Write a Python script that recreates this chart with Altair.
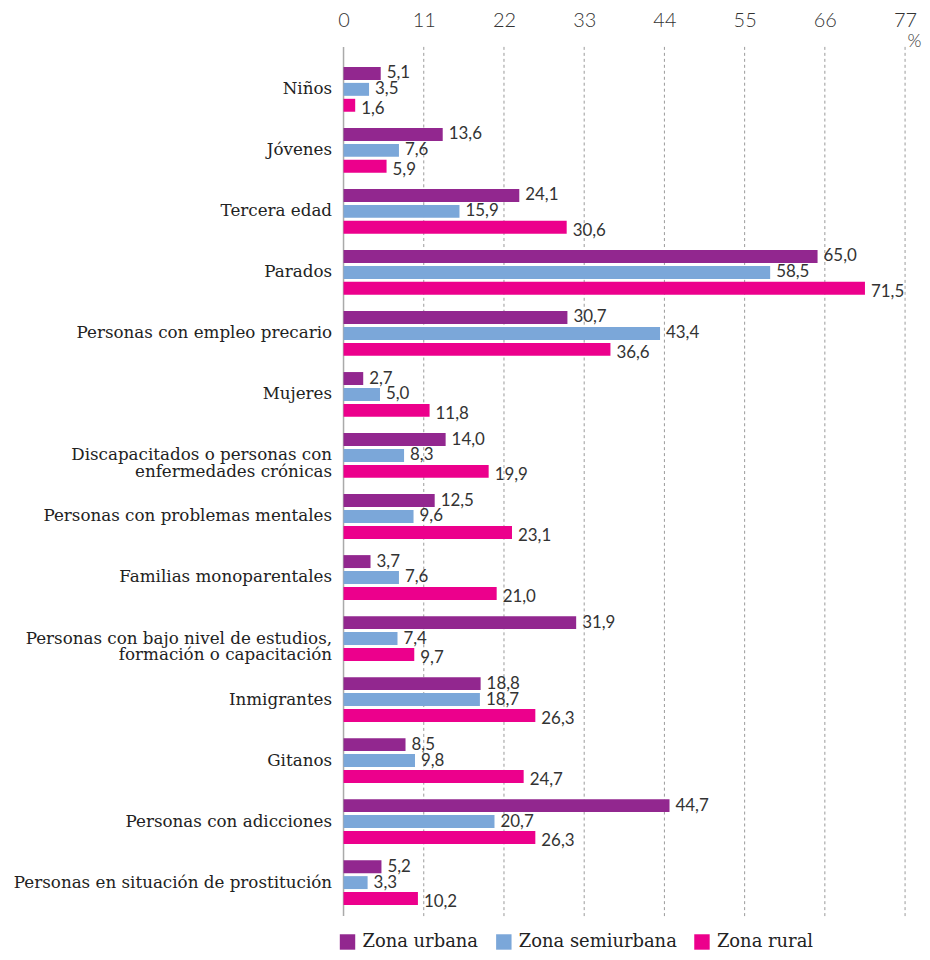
import altair as alt
import pandas as pd

categories = [
    "Niños",
    "Jóvenes",
    "Tercera edad",
    "Parados",
    "Personas con empleo precario",
    "Mujeres",
    "Discapacitados o personas con\nenfermedades crónicas",
    "Personas con problemas mentales",
    "Familias monoparentales",
    "Personas con bajo nivel de estudios,\nformación o capacitación",
    "Inmigrantes",
    "Gitanos",
    "Personas con adicciones",
    "Personas en situación de prostitución",
]
zones = ["Zona urbana", "Zona semiurbana", "Zona rural"]
urbana = [5.1, 13.6, 24.1, 65.0, 30.7, 2.7, 14.0, 12.5, 3.7, 31.9, 18.8, 8.5, 44.7, 5.2]
semiurbana = [3.5, 7.6, 15.9, 58.5, 43.4, 5.0, 8.3, 9.6, 7.6, 7.4, 18.7, 9.8, 20.7, 3.3]
rural = [1.6, 5.9, 30.6, 71.5, 36.6, 11.8, 19.9, 23.1, 21.0, 9.7, 26.3, 24.7, 26.3, 10.2]
ticks = [0, 11, 22, 33, 44, 55, 66, 77]
colors = ["#92278F", "#7BA7D9", "#EC008C"]

rows = []
for zname, vals in zip(zones, [urbana, semiurbana, rural]):
    for c, v in zip(categories, vals):
        rows.append({"cat": c, "zona": zname, "v": v, "lab": f"{v:.1f}".replace(".", ",")})
df = pd.DataFrame(rows)
tick_df = pd.DataFrame({"t": ticks})

W = 564
H = 858
SERIF = "DejaVu Serif"
SANS = "Lato"

xscale = alt.Scale(domain=[0, 77], nice=False, zero=True)
yscale = alt.Scale(paddingInner=0.217, paddingOuter=0.1085)

x_axis = alt.Axis(
    orient="top", values=ticks, title="%", titleX=W + 2, titleY=-17, titleAlign="left",
    titleBaseline="middle", titleAngle=0, titleFont=SANS, titleFontSize=18,
    titleFontWeight=300, titleColor="#333",
    domain=False, ticks=False, grid=False, labelFont=SANS, labelFontSize=20,
    labelFontWeight=300, labelColor="#333", labelPadding=28, labelFlush=False,
    minExtent=49, maxExtent=49,
)
y_axis = alt.Axis(
    title=None, domain=False, ticks=False, labelFont=SERIF, labelFontSize=16.8,
    labelColor="#222", labelPadding=12, minExtent=330, maxExtent=330, labelLimit=330,
    labelExpr="split(datum.label, '\\n')", labelLineHeight=17,
)

xenc_t = alt.X("t:Q", scale=xscale, axis=x_axis)
xenc_v = alt.X("v:Q", scale=xscale, axis=x_axis)
yenc = alt.Y("cat:N", sort=categories, scale=yscale, axis=y_axis)
yoff = alt.YOffset("zona:N", sort=zones, scale=alt.Scale(paddingInner=0.1875, paddingOuter=0.094))

grid = alt.Chart(tick_df).transform_filter("datum.t > 0").mark_rule(
    color="#999", strokeDash=[3, 3], strokeWidth=1
).encode(x=xenc_t, y=alt.value(-12), y2=alt.value(H + 3))

zero = alt.Chart(tick_df).transform_filter("datum.t == 0").mark_rule(
    color="#aaa", strokeWidth=1.5
).encode(x=xenc_t, y=alt.value(-12), y2=alt.value(H + 3))

bars = alt.Chart(df).mark_bar().encode(
    x=xenc_v,
    y=yenc,
    yOffset=yoff,
    color=alt.Color(
        "zona:N", sort=zones, scale=alt.Scale(domain=zones, range=colors),
        legend=alt.Legend(
            title=None, orient="none", legendX=-5, legendY=H + 20, direction="horizontal",
            symbolType="square", symbolSize=240, symbolStrokeWidth=0, symbolOpacity=1,
            labelFont=SERIF, labelFontSize=18, labelColor="#222", columnPadding=16,
            labelOffset=6, labelLimit=300, padding=0,
        ),
    ),
)

text_main = alt.Chart(df).transform_filter("datum.zona != 'Zona rural'").mark_text(
    align="left", baseline="middle", dx=6, font=SANS, fontSize=17, color="#333"
).encode(x=xenc_v, y=yenc, yOffset=yoff, text="lab:N")

text_rural = alt.Chart(df).transform_filter("datum.zona == 'Zona rural'").mark_text(
    align="left", baseline="middle", dx=6, dy=4, font=SANS, fontSize=17, color="#333"
).encode(x=xenc_v, y=yenc, yOffset=yoff, text="lab:N")

chart = alt.layer(grid, zero, bars, text_main, text_rural).properties(
    width=W, height=H, padding={"left": 5, "top": 0, "right": 0, "bottom": 0}
).configure_view(stroke=None)

chart.save("out.html", embed_options={"renderer": "svg", "actions": False})
